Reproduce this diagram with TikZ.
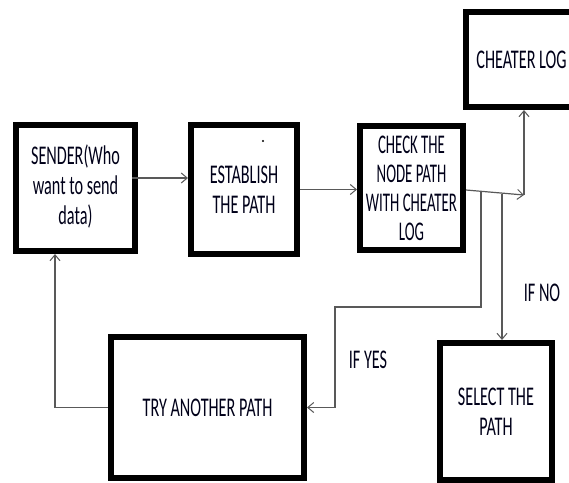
\documentclass[tikz,border=0pt]{standalone}
\usepackage{fontspec}
\setmainfont[FakeStretch=0.6]{Carlito}
\newfontfamily\tightfont[FakeStretch=0.55]{Carlito}
\usetikzlibrary{arrows.meta,calc}
\begin{document}
\begin{tikzpicture}[x=1pt,y=-1pt,
  box/.style={draw=black,line width=6pt,inner sep=0pt,align=center,
    font=\fontsize{27}{30}\selectfont,text=black!90!blue},
  conn/.style={draw=black!65,line width=1.2pt},
  arr/.style={conn,-{Straight Barb[length=6pt,width=10pt,line width=1pt]}},
  lbl/.style={inner sep=0pt,font=\fontsize{27}{30}\selectfont,text=black!90!blue}]
\useasboundingbox (0,0) rectangle (569,482);
\clip (0,0) rectangle (569,482);
\fill[white] (0,0) rectangle (569,482);

\node[box,minimum width=119pt,minimum height=126pt] (sender) at (75.5,188)
  {\raisebox{-3pt}{\begin{tabular}{@{}c@{}}SENDER(Who\\want to send\\data)\end{tabular}}};
\node[box,minimum width=106pt,minimum height=129pt] (establish) at (244,189.5)
  {ESTABLISH\\THE PATH};
\node[box,minimum width=103pt,minimum height=124pt,font=\tightfont\fontsize{27}{29}\selectfont] (check) at (411.5,188)
  {CHECK THE\\NODE PATH\\WITH CHEATER\\LOG};
\node[box,minimum width=111pt,minimum height=95pt] (cheater) at (521.5,59.5)
  {CHEATER LOG};
\node[box,minimum width=193pt,minimum height=141pt] (try) at (207.5,407.5)
  {TRY ANOTHER PATH};
\node[box,minimum width=112pt,minimum height=137pt] (select) at (496,411.5)
  {SELECT THE\\PATH};

\node[lbl] (ifno) at (542,293) {IF NO};
\node[lbl] (ifyes) at (368,360) {IF YES};

% stray dot
\fill[black] (263,141) circle (1.2pt);

% connectors
\coordinate (s1) at ([xshift=-6pt,yshift=10pt]sender.east);
\draw[arr] (s1) -- (s1 -| establish.west);
\draw[arr] (establish.east) -- (establish.east -| check.west);
\coordinate (c0) at ([yshift=-2pt]check.east);
\coordinate (j) at (524,195);
\draw[arr] (c0) -- (j);
\draw[arr] (j) -- (j |- cheater.south);
\coordinate (b1) at (481,191.5);
\coordinate (b2) at (502,193.5);
\coordinate (k1) at (481,307);
\coordinate (k2) at (335,307);
\draw[arr] (b1) -- (k1) -- (k2) -- (k2 |- try.east) -- (try.east);
\draw[arr] (b2) -- (b2 |- select.north);
\coordinate (t0) at (55,300);
\coordinate (t1) at (t0 |- try.west);
\draw[arr] (try.west) -- (t1) -- (t1 |- sender.south);
\end{tikzpicture}
\end{document}
